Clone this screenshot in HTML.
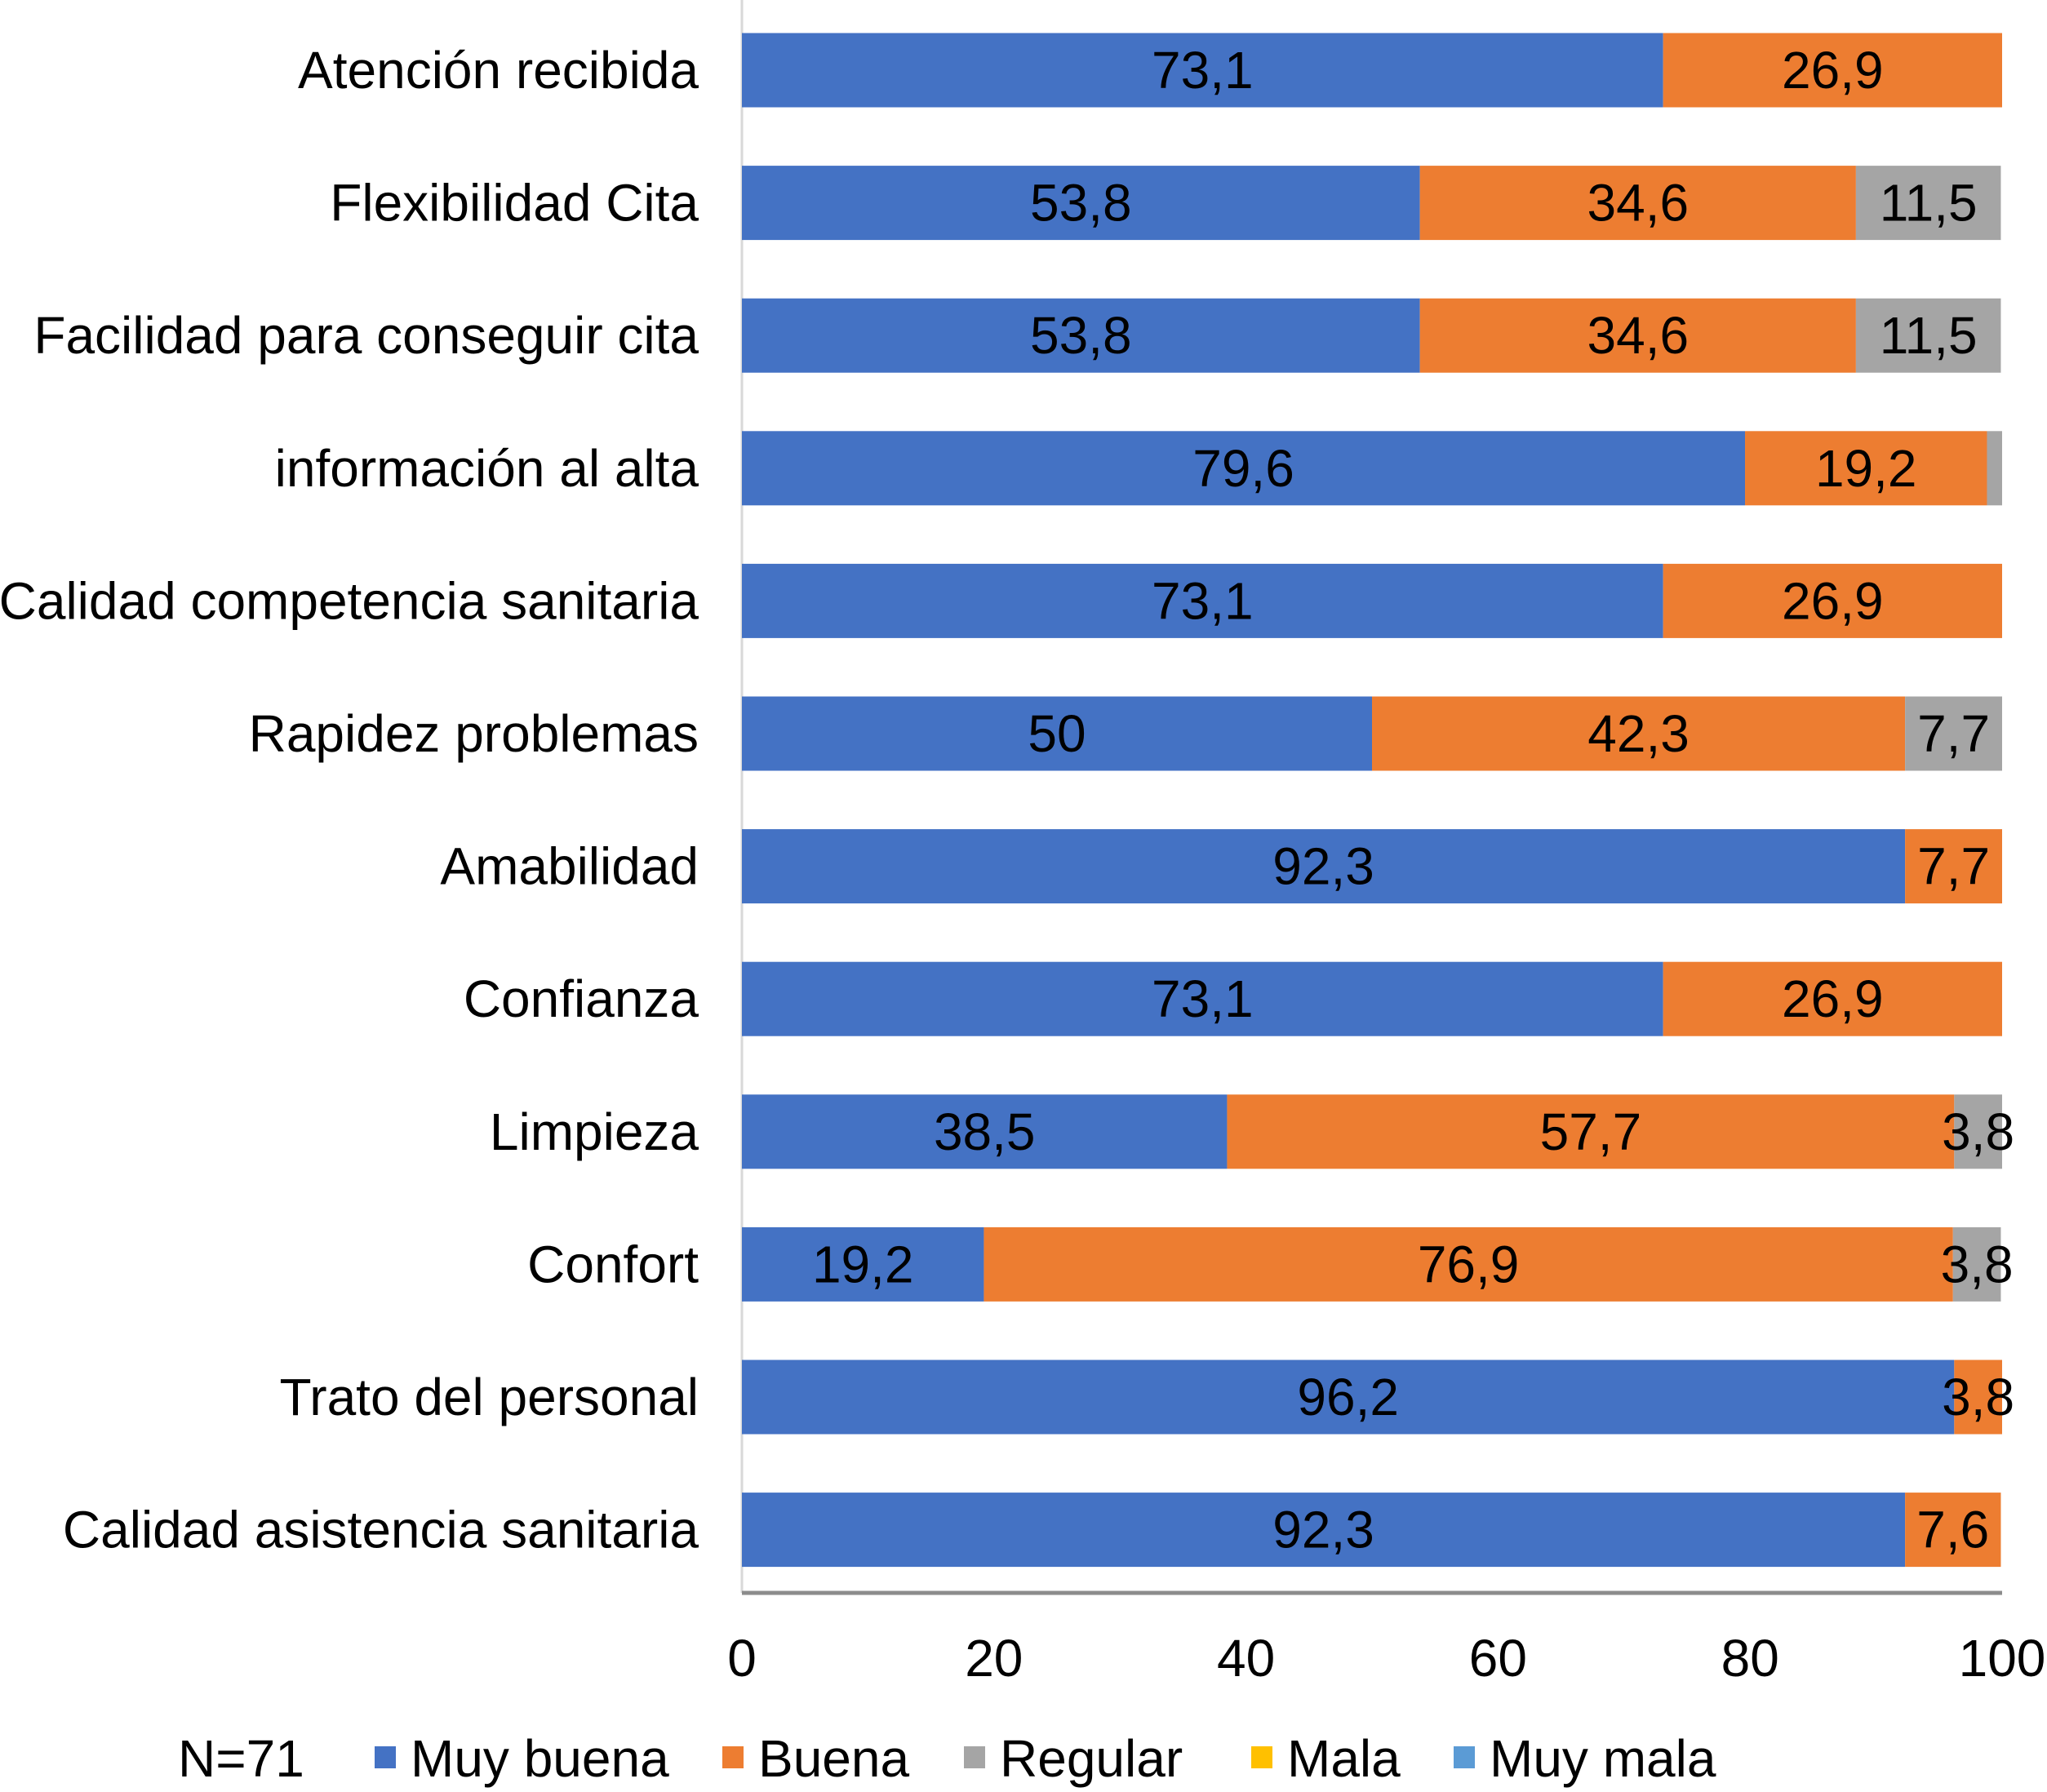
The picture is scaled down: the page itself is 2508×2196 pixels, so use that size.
<!DOCTYPE html>
<html><head><meta charset="utf-8"><style>
html,body{margin:0;padding:0;background:#fff;}
svg{display:block;font-family:"Liberation Sans",Arial,sans-serif;}
</style></head><body>
<svg id="chart" width="2508" height="2196" viewBox="0 0 2508 2196" xmlns="http://www.w3.org/2000/svg">
<g id="bars"></g>
<g id="ylabels"></g>
<g id="xticks"></g>
<g id="legend"></g>
</svg>
<script>
const categories = ["Atención recibida","Flexibilidad Cita","Facilidad para conseguir cita","información al alta","Calidad competencia sanitaria","Rapidez problemas","Amabilidad","Confianza","Limpieza","Confort","Trato del personal","Calidad asistencia sanitaria"];
const muyBuena = [73.1,53.8,53.8,79.6,73.1,50,92.3,73.1,38.5,19.2,96.2,92.3];
const buena =    [26.9,34.6,34.6,19.2,26.9,42.3,7.7,26.9,57.7,76.9,3.8,7.6];
const regular =  [0,11.5,11.5,1.2,0,7.7,0,0,3.8,3.8,0,0];
const mala =     [0,0,0,0,0,0,0,0,0,0,0,0];
const muyMala =  [0,0,0,0,0,0,0,0,0,0,0,0];
const regularLabels = [true,true,true,false,true,true,true,true,true,true,true,true];
const xTicks = [0,20,40,60,80,100];
const seriesNames = ["Muy buena","Buena","Regular","Mala","Muy mala"];
const colors = ["#4472C4","#ED7D31","#A5A5A5","#FFC000","#5B9BD5"];

const NS="http://www.w3.org/2000/svg";
const X0=909, X1=2453, Y0=86, PITCH=162.6, BH=91, FS=64, SX=1.0;
const xs=v=>X0+(X1-X0)*v/100;
const ys=i=>Y0+i*PITCH;
function mk(tag,attrs,parent){const e=document.createElementNS(NS,tag);for(const k in attrs)e.setAttribute(k,attrs[k]);parent.appendChild(e);return e;}
function txt(parent,x,y,s,anchor){
  const g=mk('g',{transform:`translate(${x},${y}) scale(${SX},1)`},parent);
  const t=mk('text',{x:0,y:0,'font-size':FS,'text-anchor':anchor,'dominant-baseline':'central',fill:'#000'},g);
  t.textContent=s;return t;
}
const fmt=v=>String(v).replace('.',',');
const bars=document.getElementById('bars');
const ylab=document.getElementById('ylabels');
const va=mk('line',{x1:X0,y1:0,x2:X0,y2:1952,stroke:'#d9d9d9','stroke-width':3},bars);


const series=[muyBuena,buena,regular,mala,muyMala];
categories.forEach((c,i)=>{
  const cy=ys(i);
  let acc=0;
  series.forEach((arr,s)=>{
    const v=arr[i]; if(!v) return;
    const r=mk('rect',{x:xs(acc),y:cy-BH/2,width:xs(acc+v)-xs(acc),height:BH,fill:colors[s]},bars);
    
    
    const show = s!==2 || regularLabels[i];
    if(show){
      const t=txt(bars,(xs(acc)+xs(acc+v))/2,cy,fmt(v),'middle');
      
      
    }
    acc+=v;
  });
  const l=txt(ylab,856,cy,c,'end');
  
  
});
const ha=mk('line',{x1:X0,y1:1952,x2:2453,y2:1952,stroke:'#8c8c8c','stroke-width':5},bars);


const xt=document.getElementById('xticks');
xTicks.forEach(v=>{
  const t=txt(xt,xs(v),2032,String(v),'middle');
  
  
});
const lg=document.getElementById('legend');
const n=txt(lg,218,2155,'N=71','start');


const legX=[459,885,1181,1533,1781];
seriesNames.forEach((s,k)=>{
  const r=mk('rect',{x:legX[k],y:2140,width:26,height:27,fill:colors[k]},lg);
  
  
  const t=txt(lg,legX[k]+44,2155,s,'start');
  
  
});
</script>
</body></html>
